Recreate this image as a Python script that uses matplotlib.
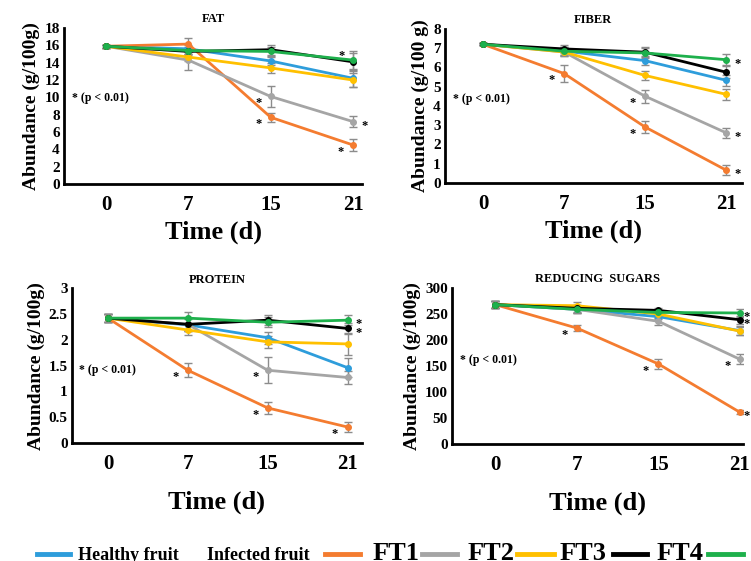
import matplotlib
matplotlib.use("Agg")
import matplotlib.pyplot as plt
from matplotlib.lines import Line2D

plt.rcParams['font.family'] = 'Liberation Serif'
plt.rcParams['font.weight'] = 'bold'
plt.rcParams['axes.labelweight'] = 'bold'
plt.rcParams['axes.titleweight'] = 'bold'

days = ['0', '7', '15', '21']
groups = ['Healthy fruit', 'Infected fruit', 'FT1', 'FT2', 'FT3', 'FT4']
colors = ['#2e9ddb', '#f47c30', '#a5a5a5', '#ffc000', '#000000', '#1eb04c']

# mean abundance, one row per group (healthy, infected, FT1..FT4)
fat = [[15.9, 15.6, 14.2, 12.2],
       [15.9, 16.15, 7.7, 4.5],
       [15.9, 14.3, 10.1, 7.2],
       [15.9, 14.65, 13.4, 12.0],
       [15.9, 15.3, 15.5, 14.1],
       [15.9, 15.4, 15.3, 14.3]]
fat_sd = [[0.2, 0.4, 0.5, 1.0],
          [0.2, 0.7, 0.5, 0.7],
          [0.2, 1.1, 1.2, 0.6],
          [0.2, 0.4, 0.6, 0.8],
          [0.2, 0.4, 0.6, 1.0],
          [0.2, 0.4, 0.5, 1.0]]

fiber = [[7.2, 6.85, 6.35, 5.33],
         [7.2, 5.68, 2.9, 0.66],
         [7.2, 6.8, 4.5, 2.6],
         [7.2, 6.8, 5.58, 4.6],
         [7.2, 6.96, 6.79, 5.75],
         [7.2, 6.84, 6.75, 6.4]]
fiber_sd = [[0.05, 0.2, 0.25, 0.3],
            [0.05, 0.45, 0.3, 0.25],
            [0.05, 0.2, 0.35, 0.25],
            [0.05, 0.2, 0.25, 0.3],
            [0.05, 0.2, 0.25, 0.3],
            [0.05, 0.2, 0.25, 0.3]]

protein = [[2.42, 2.29, 2.04, 1.46],
           [2.42, 1.41, 0.68, 0.31],
           [2.42, 2.30, 1.41, 1.27],
           [2.42, 2.19, 1.96, 1.92],
           [2.42, 2.30, 2.38, 2.22],
           [2.42, 2.42, 2.34, 2.38]]
protein_sd = [[0.08, 0.12, 0.12, 0.18],
              [0.08, 0.14, 0.12, 0.1],
              [0.08, 0.12, 0.25, 0.12],
              [0.08, 0.1, 0.12, 0.22],
              [0.08, 0.12, 0.1, 0.1],
              [0.08, 0.12, 0.1, 0.1]]

sugars = [[268, 259, 245, 218],
          [268, 223, 154, 61],
          [268, 259, 236, 163],
          [268, 266, 250, 217],
          [268, 261, 257, 239],
          [268, 259, 253, 252]]
sugars_sd = [[7, 7, 5, 8],
             [7, 6, 10, 4],
             [7, 7, 7, 10],
             [7, 7, 5, 8],
             [7, 7, 4, 8],
             [7, 7, 5, 8]]

# significance stars: (group, day index, side)
fat_stars = [(2, 2, 'l'), (1, 2, 'l'), (4, 3, 'la'), (2, 3, 'r'), (1, 3, 'l')]
fiber_stars = [(1, 1, 'l'), (2, 2, 'l'), (1, 2, 'l'), (5, 3, 'r'), (2, 3, 'r'), (1, 3, 'r')]
protein_stars = [(1, 1, 'l'), (2, 2, 'l'), (1, 2, 'l'), (5, 3, 'r'), (4, 3, 'r'), (1, 3, 'l')]
sugars_stars = [(1, 1, 'l'), (1, 2, 'l'), (2, 3, 'l'), (5, 3, 'r'), (4, 3, 'r'), (1, 3, 'r')]

panels = [
    # title, means, sd, stars, ylim, yticks, ylabel, axes rect, xlim, note pos, xlabel pad
    ('FAT', fat, fat_sd, fat_stars, 18, range(0, 19, 2), 'Abundance (g/100g)',
     [0.0852, 0.672, 0.397, 0.278], (-0.51, 3.11), (0.027, 0.55), 4),
    ('FIBER', fiber, fiber_sd, fiber_stars, 8, range(0, 9), 'Abundance (g/100 g)',
     [0.5925, 0.674, 0.395, 0.2745], (-0.47, 3.19), (0.027, 0.545), 4),
    ('PROTEIN', protein, protein_sd, protein_stars, 3, [0, 0.5, 1, 1.5, 2, 2.5, 3],
     'Abundance (g/100g)', [0.0959, 0.2103, 0.386, 0.276], (-0.45, 3.18), (0.024, 0.47), 12),
    ('REDUCING  SUGARS', sugars, sugars_sd, sugars_stars, 300, range(0, 301, 50),
     'Abundance (g/100g)', [0.602, 0.2086, 0.3875, 0.278], (-0.53, 3.04), (0.027, 0.54), 12),
]

fig = plt.figure(figsize=(7.51, 5.61), dpi=100)

for title, means, sds, stars, ytop, yticks, ylabel, rect, xlim, note, xpad in panels:
    ax = fig.add_axes(rect)
    x = range(len(days))
    for vals, sd, c in zip(means, sds, colors):
        ax.errorbar(x, vals, yerr=sd, fmt='none', ecolor='#8c8c8c',
                    elinewidth=1, capsize=3, capthick=1, zorder=2)
        ax.plot(x, vals, color=c, lw=2, marker='o', ms=4, zorder=3)
    rx = 5 if ytop == 300 else 8
    for g, d, side in stars:
        off = {'l': (-9, -5), 'r': (rx, -3), 'la': (-8, 4)}[side]
        ax.annotate('*', (d, means[g][d]), xytext=off, textcoords='offset points',
                    ha='center', va='center', fontsize=9)
    ax.set_xlim(*xlim)
    ax.set_ylim(0, ytop)
    ax.set_xticks(list(x))
    ax.set_xticklabels(days, fontsize=15)
    ax.set_yticks(list(yticks))
    ax.set_yticklabels([f'{v:g}' for v in yticks], fontsize=11)
    ax.tick_params(length=0, pad=3)
    ax.tick_params(axis='x', pad=8)
    for s in ('top', 'right'):
        ax.spines[s].set_visible(False)
    for s in ('left', 'bottom'):
        ax.spines[s].set_linewidth(2)
    ax.set_xlabel('Time (d)', fontsize=19, labelpad=xpad)
    ax.set_ylabel(ylabel, fontsize=14, labelpad=3)
    ax.set_title(title, fontsize=9, pad=4)
    ax.text(note[0], note[1], '* (p < 0.01)', transform=ax.transAxes,
            fontsize=8.5, va='center')

# legend row along the bottom edge
handles = [(37, 70, 0), (325, 360, 1), (422, 457, 2), (517, 554, 3), (613, 647, 4), (708, 743, 5)]
for x0, x1, i in handles:
    fig.add_artist(Line2D([x0 / 751, x1 / 751], [0.013, 0.013], color=colors[i], lw=3.5))
labels = [(78, 'Healthy fruit', 13), (207, 'Infected fruit', 13), (373, 'FT1', 19),
          (468, 'FT2', 19), (560, 'FT3', 19), (657, 'FT4', 19)]
for xp, txt, fs in labels:
    fig.text(xp / 751, 0.002, txt, fontsize=fs, va='baseline', ha='left')

fig.savefig('out.png', dpi=100)
